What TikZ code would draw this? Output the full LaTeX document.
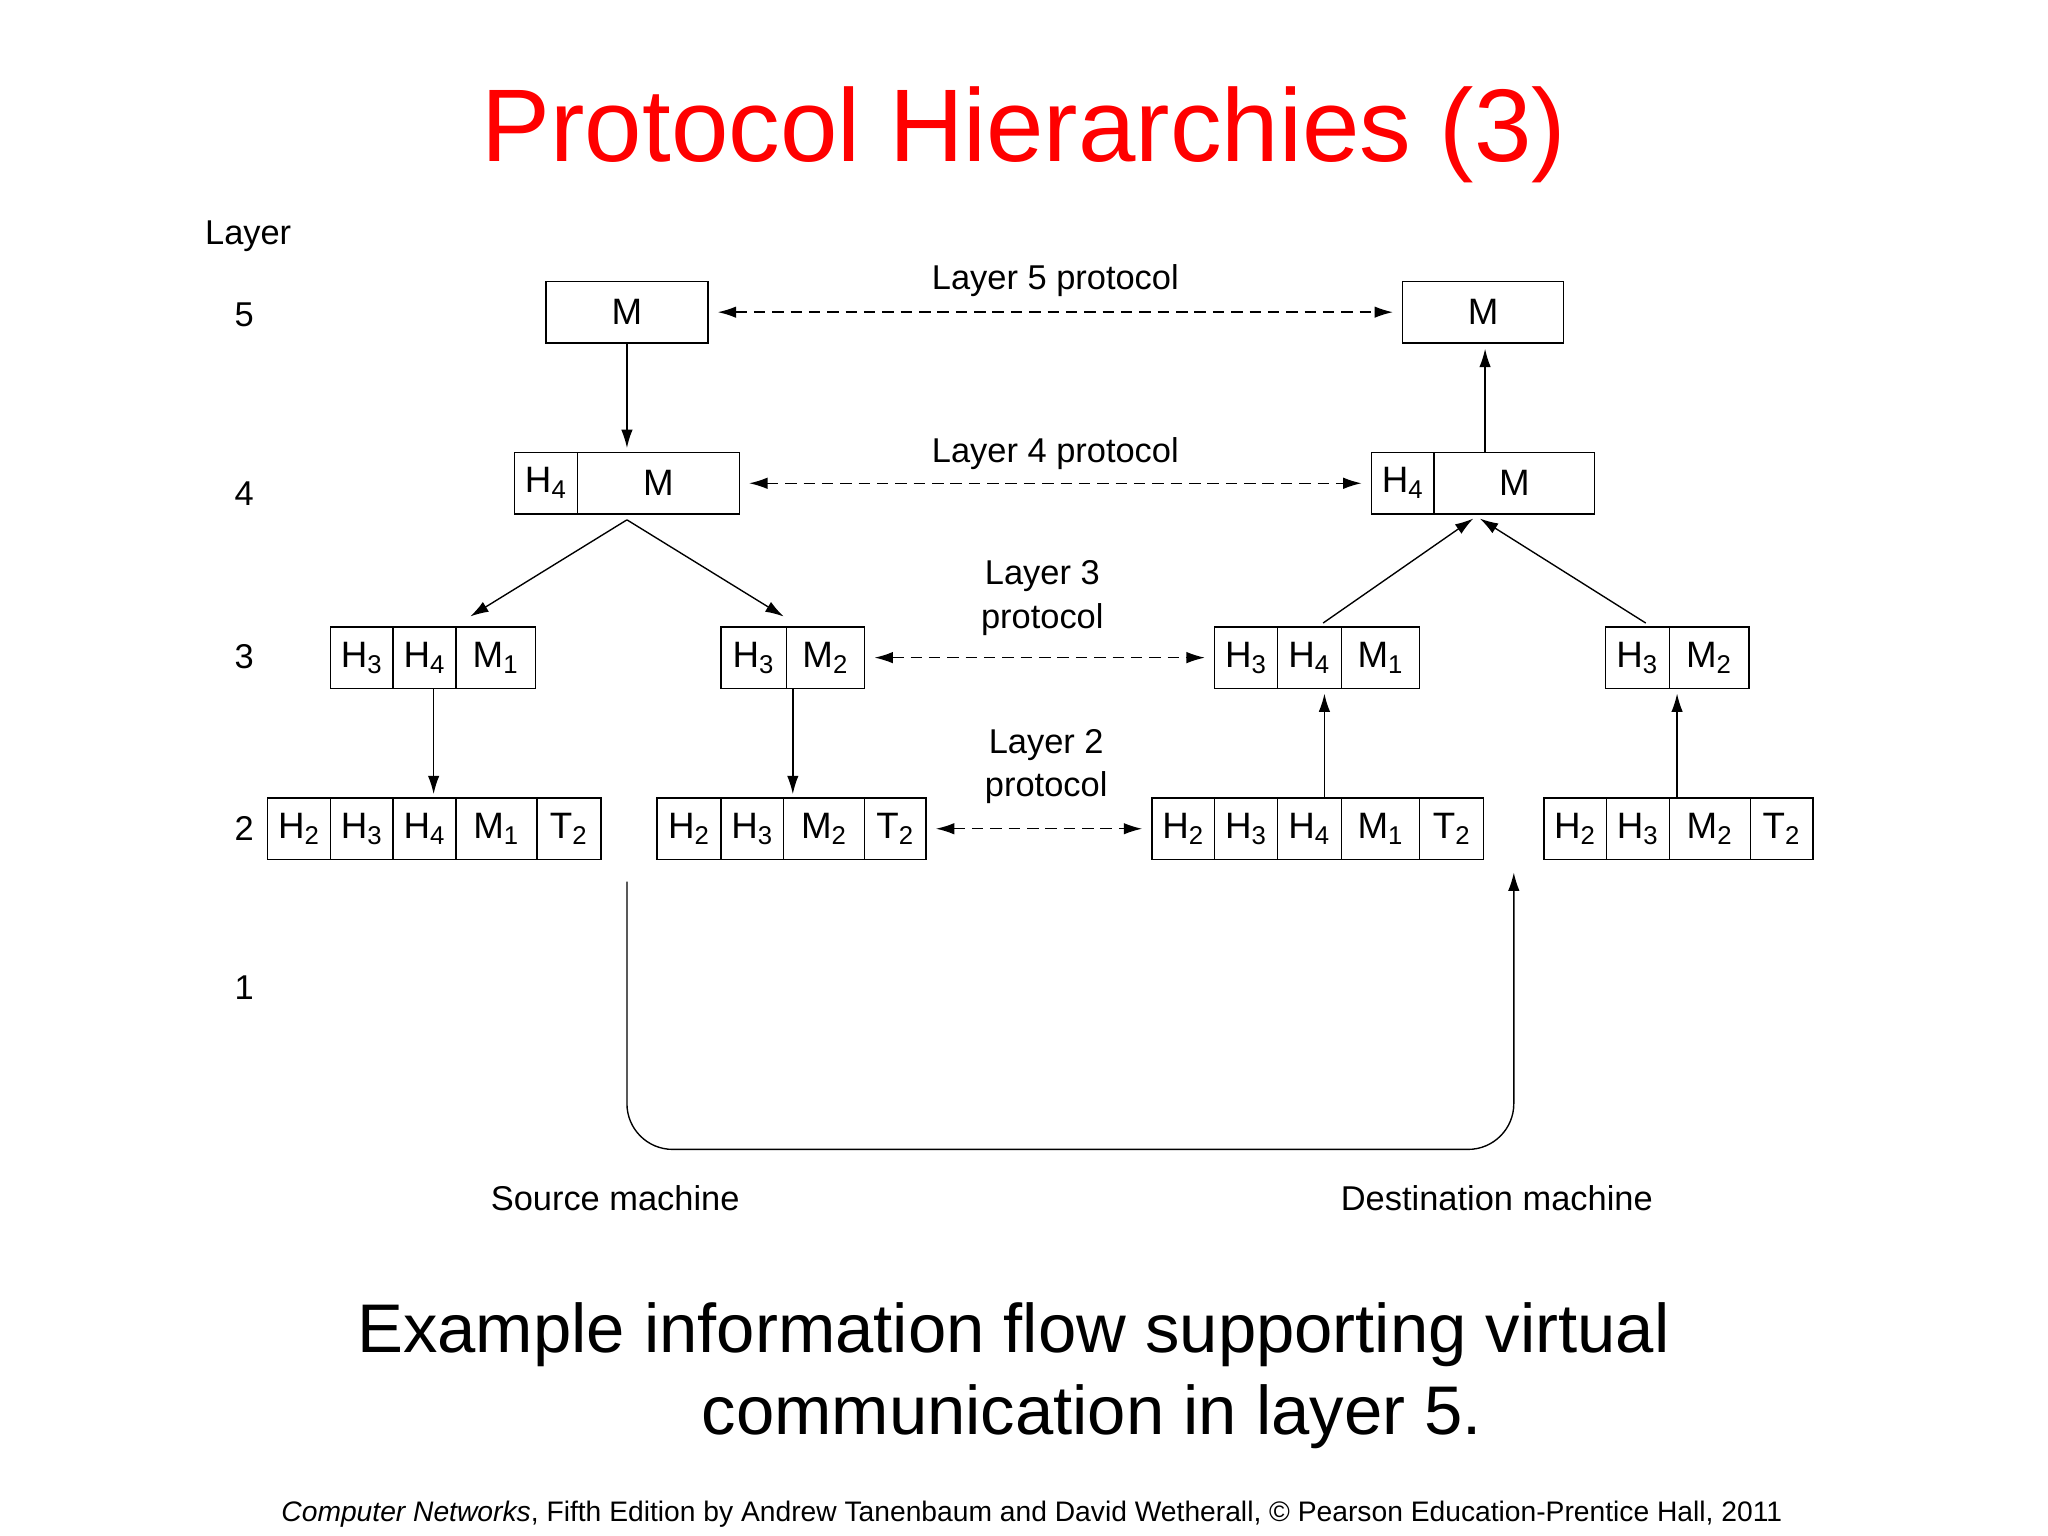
\documentclass[tikz,border=0pt]{standalone}
\usepackage{fontspec}
\setmainfont{Liberation Sans}
\usetikzlibrary{arrows.meta}
\newcommand\cell[5]{\node[cell,minimum width={(#3-#2)*0.02cm}] (#1) at ({(#2+#3)/2},#4) {#5};}
\newcommand\Hs[2]{#1\textsubscript{#2}}
\begin{document}
\begin{tikzpicture}[x=0.02cm,y=-0.02cm,
 cell/.style={draw,line width=0.6pt,minimum height=0.94cm,inner sep=0pt,font=\fontsize{16}{18}\selectfont},
 lab/.style={font=\fontsize{15}{19}\selectfont,align=center},
 arr/.style={-{Latex[length=8pt,width=5pt]},line width=0.6pt},
 darr/.style={{Latex[length=8pt,width=5pt]}-{Latex[length=8pt,width=5pt]},dash pattern=on 5pt off 3pt,line width=0.6pt}]
\useasboundingbox (0,0) rectangle (1568,1176);
\node[text=red,font=\fontsize{45}{50}\selectfont] (title) at (784,103) {Protocol Hierarchies (3)};
% layer labels
\node[lab] (lay) at (190,181) {Layer};
\node[lab] (n5) at (187,241) {5};
\node[lab] (n4) at (187,378) {4};
\node[lab] (n3) at (187,503) {3};
\node[lab] (n2) at (187,634) {2};
\node[lab] (n1) at (187,756) {1};
% layer 5
\cell{a5}{418}{542}{239}{M}
\cell{b5}{1074}{1197}{239}{M}
% layer 4
\cell{a4h}{394}{442}{370}{\Hs H4}
\cell{a4m}{442}{566}{370}{M}
\cell{b4h}{1050}{1098}{370}{\Hs H4}
\cell{b4m}{1098}{1221}{370}{M}
% layer 3
\cell{a3h3}{253}{301}{503.5}{\Hs H3}
\cell{a3h4}{301}{349}{503.5}{\Hs H4}
\cell{a3m}{349}{410}{503.5}{\Hs M1}
\cell{c3h3}{552}{602}{503.5}{\Hs H3}
\cell{c3m}{602}{662}{503.5}{\Hs M2}
\cell{b3h3}{930}{978}{503.5}{\Hs H3}
\cell{b3h4}{978}{1027}{503.5}{\Hs H4}
\cell{b3m}{1027}{1087}{503.5}{\Hs M1}
\cell{d3h3}{1229}{1278}{503.5}{\Hs H3}
\cell{d3m}{1278}{1339}{503.5}{\Hs M2}
% layer 2
\cell{a2h2}{205}{253}{634.5}{\Hs H2}
\cell{a2h3}{253}{301}{634.5}{\Hs H3}
\cell{a2h4}{301}{349}{634.5}{\Hs H4}
\cell{a2m}{349}{411}{634.5}{\Hs M1}
\cell{a2t}{411}{460}{634.5}{\Hs T2}
\cell{c2h2}{503}{552}{634.5}{\Hs H2}
\cell{c2h3}{552}{600}{634.5}{\Hs H3}
\cell{c2m}{600}{662}{634.5}{\Hs M2}
\cell{c2t}{662}{709}{634.5}{\Hs T2}
\cell{b2h2}{882}{930}{634.5}{\Hs H2}
\cell{b2h3}{930}{978}{634.5}{\Hs H3}
\cell{b2h4}{978}{1027}{634.5}{\Hs H4}
\cell{b2m}{1027}{1087}{634.5}{\Hs M1}
\cell{b2t}{1087}{1136}{634.5}{\Hs T2}
\cell{d2h2}{1182}{1230}{634.5}{\Hs H2}
\cell{d2h3}{1230}{1278}{634.5}{\Hs H3}
\cell{d2m}{1278}{1340}{634.5}{\Hs M2}
\cell{d2t}{1340}{1388}{634.5}{\Hs T2}
% protocol labels
\node[lab] (p5) at (808,215) {Layer 5 protocol};
\node[lab] (p4) at (808,347) {Layer 4 protocol};
\node[lab] (p3) at (798,458) {Layer 3\\protocol};
\node[lab] (p2) at (801,587) {Layer 2\\protocol};
% dashed peer arrows
\draw[darr] ([xshift=4pt]a5.east) -- ([xshift=-4pt]b5.west);
\draw[darr] ([xshift=4pt]a4m.east) -- ([xshift=-4pt]b4h.west);
\draw[darr] ([xshift=4pt]c3m.east) -- ([xshift=-4pt]b3h3.west);
\draw[darr] ([xshift=4pt]c2t.east) -- ([xshift=-4pt]b2h2.west);
% source side
\coordinate (a4b) at (480,398);
\draw[arr] (a5.south) -- (480,343);
\draw[arr] (a4b) -- (360,472);
\draw[arr] (a4b) -- (600,472);
\draw[arr] (332,527) -- (332,608);
\draw[arr] (607,527) -- (607,608);
% destination side
\draw[arr] (1014,611) -- (1014,531);
\draw[arr] (1284,611) -- (1284,531);
\draw[arr] (1013,477) -- (1128,397);
\draw[arr] (1260,477) -- (1133,397);
\draw[arr] (1137,347) -- (1137,267);
% physical medium
\coordinate (s1) at (480,675);
\coordinate (d1) at (1159,668);
\draw[arr,rounded corners=0.7cm] (s1) -- (480,880) -- (1159,880) -- (d1);
\node[lab] (src) at (471,917) {Source machine};
\node[lab] (dst) at (1146,917) {Destination machine};
\node[font=\fontsize{30}{36}\selectfont,align=left] (cap1) at (776,1022) {Example information flow supporting virtual};
\node[font=\fontsize{30}{36}\selectfont] (cap2) at (836,1085) {communication in layer 5.};
\node[font=\fontsize{12.3}{15}\selectfont] (foot) at (790,1159) {\textit{Computer Networks}, Fifth Edition by Andrew Tanenbaum and David Wetherall, © Pearson Education-Prentice Hall, 2011};
\end{tikzpicture}
\end{document}
